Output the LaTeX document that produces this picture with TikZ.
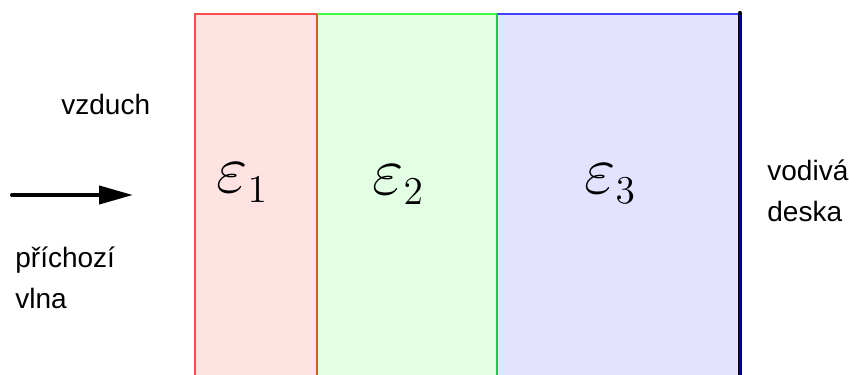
\documentclass[tikz,border=0pt]{standalone}
\usepackage{graphicx}
\usepackage{fontspec}
\setmainfont{Liberation Sans}
\usetikzlibrary{arrows.meta, positioning}
\DeclareMathSizes{24.88}{24.88}{14.4}{10}
\definecolor{redgreen}{RGB}{210,95,35}
\definecolor{greenblue}{RGB}{35,195,85}
\newcommand{\perm}[1]{\scalebox{1.37}{$\varepsilon_{#1}$}}

\begin{document}
\begin{tikzpicture}[
        x=0.5pt, y=-0.5pt,
        label/.style={anchor=base west, inner sep=0pt, align=left, font=\fontsize{14}{20.5}\selectfont},
        perm/.style={anchor=base west, inner sep=0pt, font=\Huge},
        border/.style={line width=1pt},
        arrow/.style={-{Triangle[length=17pt, width=9pt]}, line width=2pt, line cap=round}
    ]
    \useasboundingbox (0,0) rectangle (849,374);
    \clip (0,0) rectangle (849,374);

    % layers
    \fill [red!11] (195,14) rectangle (317,380);
    \fill [green!11] (317,14) rectangle (497,380);
    \fill [blue!11] (497,14) rectangle (740,380);
    \draw [border, red!70] (195,380) -- (195,14) -- (317,14);
    \draw [border, green!75] (317,14) -- (497,14);
    \draw [border, blue!75] (497,14) -- (740,14);
    \draw [border, redgreen] (317,14) -- (317,380);
    \draw [border, greenblue] (497,14) -- (497,380);

    % conducting plate
    \draw [line width=2.2pt, line cap=round] (740,13) -- (740,380);
    \draw [line width=0.9pt, blue!70!black] (740,15) -- (740,380);

    \node (eps1) [perm] at (216,192) {\perm{1}};
    \node (eps2) [perm] at (372,194) {\perm{2}};
    \node (eps3) [perm] at (584,193) {\perm{3}};

    \node (air) [label] at (61,114) {vzduch};
    \node (wave) [label] at (15,308) {příchozí\\vlna};
    \node (plate) [label] at (767,221) {vodivá\\deska};

    \coordinate (start) at (12,195);
    \coordinate (end) at (133,195);
    \draw [arrow] (start) -- (end);

\end{tikzpicture}
\end{document}
